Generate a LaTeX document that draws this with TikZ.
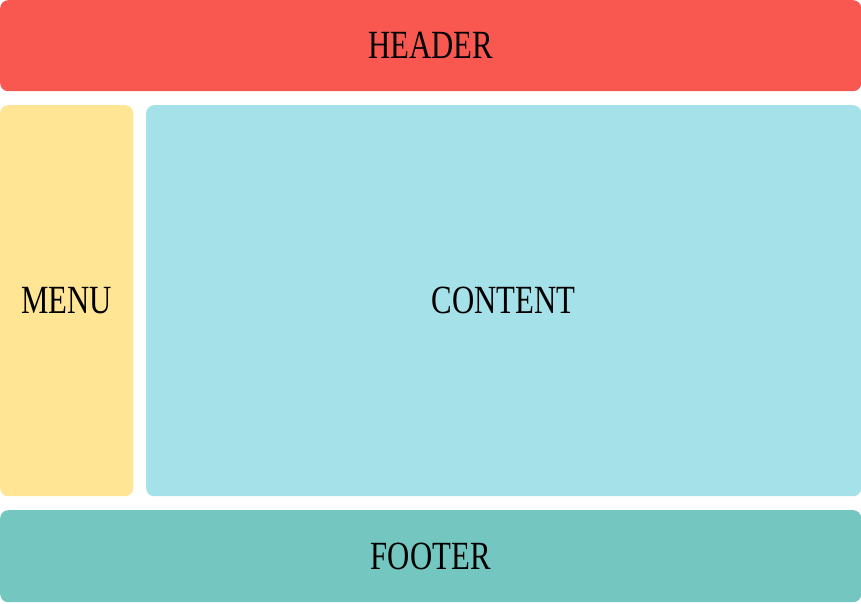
\documentclass[tikz,border=0pt]{standalone}
\usepackage{fontspec}
\setmainfont{Liberation Serif}
\usepackage{tikz}
\usetikzlibrary{positioning}
\definecolor{header}{RGB}{249,88,80}
\definecolor{menu}{RGB}{255,229,148}
\definecolor{content}{RGB}{164,225,232}
\definecolor{footer}{RGB}{116,199,192}
\newcommand{\boxlabel}[1]{\fontsize{40}{46}\selectfont\scalebox{0.77}[1]{#1}}

\begin{document}
\begin{tikzpicture}[x=1pt, y=-1pt,
    block/.style={draw=none, rounded corners=8pt, inner sep=0pt, anchor=north west}]
    %% Background
    \useasboundingbox (0,0) rectangle (861,603);
    \fill[white] (0,0) rectangle (861,603);
    %% Blocks
    \node[block, fill=header, minimum width=861pt, minimum height=91pt] (header) at (0,0) {\boxlabel{HEADER}};
    \node[block, fill=menu, minimum width=133pt, minimum height=391pt] (menu) at (0,105) {\boxlabel{MENU}};
    \node[block, fill=content, minimum width=715pt, minimum height=391pt] (content) at (146,105) {\boxlabel{CONTENT}};
    \node[block, fill=footer, minimum width=861pt, minimum height=92pt] (footer) at (0,510) {\boxlabel{FOOTER}};
\end{tikzpicture}
\end{document}
